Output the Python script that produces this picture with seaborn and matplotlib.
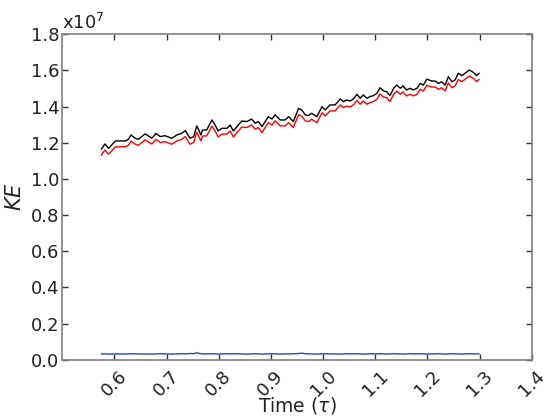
import numpy as np
import pandas as pd
import matplotlib
matplotlib.use("Agg")
import matplotlib.pyplot as plt
import matplotlib.ticker as mticker
import seaborn as sns

# time (tau) and kinetic energy readings, energies in units of 1e7
time = [0.575, 0.582, 0.589, 0.602, 0.621, 0.627, 0.632, 0.640, 0.646, 0.659,
        0.665, 0.672, 0.680, 0.688, 0.697, 0.710, 0.720, 0.729, 0.736, 0.745,
        0.752, 0.758, 0.766, 0.769, 0.777, 0.787, 0.793, 0.799, 0.806, 0.816,
        0.822, 0.828, 0.835, 0.844, 0.854, 0.863, 0.870, 0.876, 0.883, 0.889,
        0.895, 0.902, 0.908, 0.918, 0.927, 0.934, 0.943, 0.953, 0.959, 0.966,
        0.972, 0.978, 0.988, 0.998, 1.004, 1.013, 1.023, 1.033, 1.039, 1.045,
        1.052, 1.058, 1.065, 1.071, 1.077, 1.084, 1.090, 1.096, 1.103, 1.109,
        1.116, 1.122, 1.128, 1.135, 1.141, 1.148, 1.153, 1.160, 1.167, 1.173,
        1.180, 1.186, 1.192, 1.199, 1.208, 1.215, 1.221, 1.227, 1.234, 1.240,
        1.247, 1.253, 1.259, 1.266, 1.272, 1.280, 1.288, 1.294, 1.299]

ke_total = [1.164, 1.193, 1.169, 1.210, 1.210, 1.219, 1.243, 1.225, 1.219, 1.249,
            1.238, 1.225, 1.252, 1.234, 1.239, 1.225, 1.243, 1.252, 1.267, 1.225,
            1.234, 1.293, 1.243, 1.270, 1.271, 1.326, 1.298, 1.265, 1.280, 1.280,
            1.298, 1.265, 1.289, 1.320, 1.317, 1.331, 1.308, 1.317, 1.289, 1.317,
            1.344, 1.331, 1.354, 1.326, 1.326, 1.344, 1.317, 1.390, 1.381, 1.354,
            1.350, 1.363, 1.344, 1.400, 1.381, 1.409, 1.409, 1.442, 1.427, 1.436,
            1.431, 1.442, 1.468, 1.446, 1.464, 1.446, 1.455, 1.460, 1.473, 1.504,
            1.486, 1.482, 1.460, 1.500, 1.519, 1.501, 1.514, 1.492, 1.501, 1.492,
            1.501, 1.528, 1.519, 1.552, 1.541, 1.541, 1.528, 1.537, 1.519, 1.565,
            1.537, 1.547, 1.584, 1.571, 1.584, 1.602, 1.589, 1.571, 1.584]

ke_red = [1.131, 1.160, 1.137, 1.177, 1.178, 1.186, 1.209, 1.192, 1.186, 1.216,
          1.205, 1.193, 1.219, 1.201, 1.206, 1.192, 1.210, 1.219, 1.234, 1.192,
          1.201, 1.258, 1.210, 1.237, 1.238, 1.292, 1.265, 1.232, 1.247, 1.248,
          1.265, 1.232, 1.256, 1.287, 1.284, 1.298, 1.275, 1.284, 1.256, 1.284,
          1.311, 1.298, 1.321, 1.293, 1.293, 1.311, 1.284, 1.355, 1.347, 1.321,
          1.317, 1.330, 1.311, 1.366, 1.348, 1.376, 1.376, 1.409, 1.394, 1.403,
          1.398, 1.409, 1.434, 1.413, 1.431, 1.413, 1.422, 1.427, 1.440, 1.470,
          1.453, 1.449, 1.427, 1.467, 1.486, 1.468, 1.481, 1.459, 1.468, 1.459,
          1.468, 1.495, 1.486, 1.518, 1.508, 1.508, 1.495, 1.504, 1.486, 1.531,
          1.504, 1.514, 1.550, 1.538, 1.551, 1.568, 1.556, 1.538, 1.551]

ke_blue = [0.033, 0.033, 0.032, 0.033, 0.032, 0.033, 0.034, 0.033, 0.033, 0.032,
           0.033, 0.032, 0.033, 0.034, 0.033, 0.032, 0.033, 0.034, 0.033, 0.035,
           0.034, 0.039, 0.034, 0.033, 0.033, 0.034, 0.033, 0.032, 0.033, 0.034,
           0.033, 0.033, 0.034, 0.033, 0.032, 0.033, 0.034, 0.033, 0.032, 0.033,
           0.033, 0.034, 0.033, 0.032, 0.033, 0.033, 0.034, 0.035, 0.037, 0.034,
           0.033, 0.033, 0.032, 0.033, 0.034, 0.033, 0.033, 0.032, 0.033, 0.034,
           0.033, 0.033, 0.034, 0.033, 0.032, 0.033, 0.034, 0.033, 0.033, 0.034,
           0.033, 0.032, 0.033, 0.034, 0.033, 0.033, 0.032, 0.033, 0.034, 0.033,
           0.033, 0.034, 0.033, 0.032, 0.033, 0.033, 0.034, 0.033, 0.032, 0.033,
           0.034, 0.033, 0.033, 0.032, 0.033, 0.034, 0.033, 0.033, 0.033]

xticks = [0.6, 0.7, 0.8, 0.9, 1.0, 1.1, 1.2, 1.3, 1.4]
yticks = [0.0, 0.2, 0.4, 0.6, 0.8, 1.0, 1.2, 1.4, 1.6, 1.8]

sns.set_style("ticks")
plt.rcParams['font.family'] = ['DejaVu Sans']

df = pd.DataFrame({'time': time,
                   'total': np.array(ke_total) * 1e7,
                   'red': np.array(ke_red) * 1e7,
                   'blue': np.array(ke_blue) * 1e7})

fig = plt.figure(figsize=(5.5, 4.17), dpi=100)
ax = fig.add_axes([0.113, 0.137, 0.854, 0.781])

sns.lineplot(data=df, x='time', y='total', color='black', lw=1, estimator=None, ax=ax)
sns.lineplot(data=df, x='time', y='red', color='red', lw=1, estimator=None, ax=ax)
sns.lineplot(data=df, x='time', y='blue', color='#2a45b8', lw=1, estimator=None, ax=ax)

ax.set_xlim(0.5, 1.4)
ax.set_ylim(0, 1.8e7)
ax.set_xticks(xticks)
ax.set_yticks([v * 1e7 for v in yticks])
ax.yaxis.set_major_formatter(mticker.FuncFormatter(lambda v, p: f"{v / 1e7:.1f}"))
ax.text(0.0, 1.003, r"x10$^7$", transform=ax.transAxes, fontsize=13,
        ha='left', va='bottom', color='#222222')

ax.set_xticklabels([f"{v:.1f}" for v in xticks], rotation=45, ha='center')
ax.tick_params(direction='in', length=4, width=1, color='#333333',
               top=True, right=True, labelsize=13, labelcolor='#222222')
ax.tick_params(axis='y', pad=2)
ax.tick_params(axis='x', pad=5)
for s in ax.spines.values():
    s.set_color('#808080')
    s.set_linewidth(1.2)

ax.set_xlabel(r"Time ($\tau$)", fontsize=13.5, color='#222222')
ax.xaxis.set_label_coords(0.5, -0.108)
ax.set_ylabel(r"$KE$", fontsize=15, labelpad=4, color='#222222')

fig.savefig("out.png", dpi=100)
